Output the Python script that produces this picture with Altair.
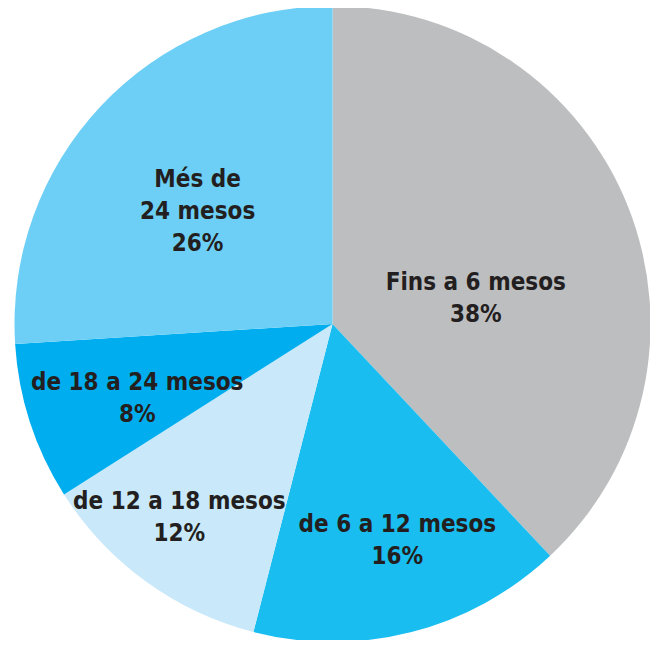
import altair as alt
import pandas as pd

categories = ["Fins a 6 mesos", "de 6 a 12 mesos", "de 12 a 18 mesos", "de 18 a 24 mesos", "Més de 24 mesos"]
labels = ["Fins a 6 mesos", "de 6 a 12 mesos", "de 12 a 18 mesos", "de 18 a 24 mesos", "Més de\n24 mesos"]
values = [38, 16, 12, 8, 26]
colors = ["#BDBEC0", "#19BDF0", "#C9E9FA", "#00AEEF", "#6DCFF6"]

df = pd.DataFrame({
    "cat": categories,
    "label": labels,
    "value": values,
    "order": list(range(len(categories))),
})

# label placement (styling): radius in px and small angular nudge in percent units
label_radius = {"Fins a 6 mesos": 149, "de 6 a 12 mesos": 211, "de 12 a 18 mesos": 235,
                "de 18 a 24 mesos": 204, "Més de 24 mesos": 197}
label_nudge = {"Fins a 6 mesos": 1.56, "de 6 a 12 mesos": -0.97, "de 12 a 18 mesos": 1.3,
               "de 18 a 24 mesos": 0.33, "Més de 24 mesos": 1.0}

def js_map(d):
    return "{" + ",".join(f"'{k}':{v}" for k, v in d.items()) + "}"

arcs = alt.Chart(df).mark_arc(outerRadius=318, stroke=None).encode(
    theta=alt.Theta("value:Q", stack=True, scale=alt.Scale(domain=[0, 100])),
    order=alt.Order("order:Q", sort="ascending"),
    color=alt.Color("cat:N", scale=alt.Scale(domain=categories, range=colors), legend=None),
)

text = alt.Chart(df).transform_window(
    cum="sum(value)", sort=[alt.SortField("order", order="ascending")]
).transform_calculate(
    mid=f"datum.cum - datum.value / 2 + {js_map(label_nudge)}[datum.cat]",
    r=f"{js_map(label_radius)}[datum.cat]",
    txt="datum.label + '\\n' + datum.value + '%'",
).mark_text(
    font="Liberation Sans Narrow, Arial Narrow, DejaVu Sans Condensed, sans-serif",
    fontWeight="bold",
    fontSize=24,
    color="#231F20",
    lineBreak="\n",
    lineHeight=32,
    align="center",
    baseline="middle",
).encode(
    theta=alt.Theta("mid:Q", stack=None, scale=alt.Scale(domain=[0, 100])),
    radius=alt.Radius("r:Q", scale=None),
    text="txt:N",
)

chart = alt.layer(arcs, text).properties(
    width=635, height=632, autosize=alt.AutoSizeParams(type="none"),
    padding={"left": 7, "top": 0, "right": 0, "bottom": 0},
).configure_view(stroke=None)

chart.save("out.html", embed_options={"renderer": "svg", "actions": False})
